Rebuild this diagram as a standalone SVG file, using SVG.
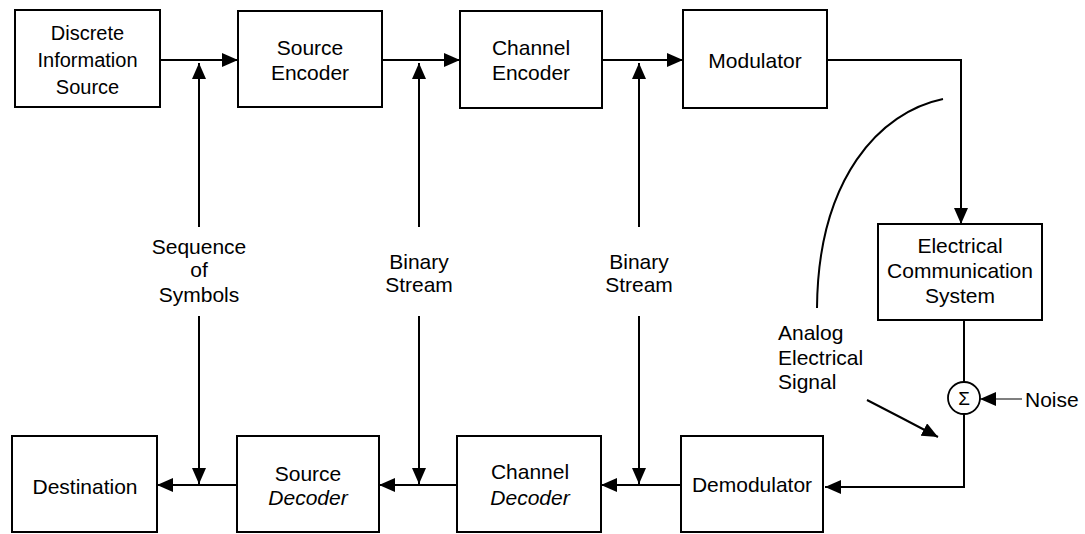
<svg xmlns="http://www.w3.org/2000/svg" width="1085" height="534" viewBox="0 0 1085 534">
<style>
.box{fill:#fff;stroke:#000;stroke-width:2}
.t{font-family:"Liberation Sans",Arial,sans-serif;font-size:21px;fill:#000;text-anchor:middle}
.l{text-anchor:start}
.i{font-style:italic}
.c{fill:none;stroke:#000;stroke-width:2}
.thin{fill:none;stroke:#000;stroke-width:1.2}
</style>
<defs>
<marker id="ah" viewBox="0 0 16 14" refX="16" refY="7" markerWidth="16" markerHeight="14" orient="auto" markerUnits="userSpaceOnUse"><path d="M0,0 L16,7 L0,14 z" fill="#000"/></marker>
</defs>
<rect width="1085" height="534" fill="#fff"/>
<g id="connectors">
<path class="c" d="M160,60 H238" marker-end="url(#ah)"/>
<path class="c" d="M382,60 H460" marker-end="url(#ah)"/>
<path class="c" d="M602,60 H683" marker-end="url(#ah)"/>
<path class="c" d="M199,227 V63" marker-end="url(#ah)"/>
<path class="c" d="M419,227 V63" marker-end="url(#ah)"/>
<path class="c" d="M639,227 V63" marker-end="url(#ah)"/>
<path class="c" d="M827,60 H961 V224" marker-end="url(#ah)"/>
<path class="c" d="M964,320 V382"/>
<path class="c" d="M964,414 V487 H825" marker-end="url(#ah)"/>
<path class="thin" d="M1022,399 H980" marker-end="url(#ah)"/>
<path class="c" d="M199,316 V484" marker-end="url(#ah)"/>
<path class="c" d="M419,316 V484" marker-end="url(#ah)"/>
<path class="c" d="M639,316 V484" marker-end="url(#ah)"/>
<path class="c" d="M681,485 H601" marker-end="url(#ah)"/>
<path class="c" d="M457,485 H379" marker-end="url(#ah)"/>
<path class="c" d="M237,485 H157" marker-end="url(#ah)"/>
<path class="c" d="M943,99 C880,112 818,178 817,308"/>
<path class="c" d="M867,400 Q902,418 938,437" marker-end="url(#ah)"/>
</g>
<g id="discrete-source"><rect class="box" x="15" y="10" width="145" height="97"/><text class="t" x="87.5" y="40" style="font-size:20px">Discrete</text><text class="t" x="87.5" y="67" style="font-size:20px">Information</text><text class="t" x="87.5" y="94" style="font-size:20px">Source</text></g>
<g id="source-encoder"><rect class="box" x="238" y="11" width="144" height="96"/><text class="t" x="310" y="55">Source</text><text class="t" x="310" y="80">Encoder</text></g>
<g id="channel-encoder"><rect class="box" x="460" y="11" width="142" height="97"/><text class="t" x="531" y="55">Channel</text><text class="t" x="531" y="80">Encoder</text></g>
<g id="modulator"><rect class="box" x="683" y="10" width="144" height="98"/><text class="t" x="755" y="68">Modulator</text></g>
<g id="ecs"><rect class="box" x="878" y="224" width="164" height="96"/><text class="t" x="960" y="253">Electrical</text><text class="t" x="960" y="278">Communication</text><text class="t" x="960" y="303">System</text></g>
<g id="sum"><circle cx="964" cy="398" r="16" fill="#fff" stroke="#000" stroke-width="1.8"/><text class="t" x="964" y="405" style="font-size:19px">Σ</text></g>
<g id="noise"><text class="t l" x="1025" y="407">Noise</text></g>
<g id="analog-label"><text class="t l" x="778" y="340">Analog</text><text class="t l" x="778" y="365">Electrical</text><text class="t l" x="778" y="389">Signal</text></g>
<g id="seq-label"><text class="t" x="199" y="254">Sequence</text><text class="t" x="199" y="277">of</text><text class="t" x="199" y="302">Symbols</text></g>
<g id="bin-label-1"><text class="t" x="419" y="269">Binary</text><text class="t" x="419" y="292">Stream</text></g>
<g id="bin-label-2"><text class="t" x="639" y="269">Binary</text><text class="t" x="639" y="292">Stream</text></g>
<g id="destination"><rect class="box" x="12" y="436" width="145" height="96"/><text class="t" x="85" y="494">Destination</text></g>
<g id="source-decoder"><rect class="box" x="237" y="436" width="142" height="96"/><text class="t" x="308" y="481">Source</text><text class="t i" x="308" y="505">Decoder</text></g>
<g id="channel-decoder"><rect class="box" x="457" y="436" width="144" height="96"/><text class="t" x="530" y="479">Channel</text><text class="t i" x="530" y="505">Decoder</text></g>
<g id="demodulator"><rect class="box" x="681" y="436" width="142" height="96"/><text class="t" x="752" y="492">Demodulator</text></g>
</svg>
